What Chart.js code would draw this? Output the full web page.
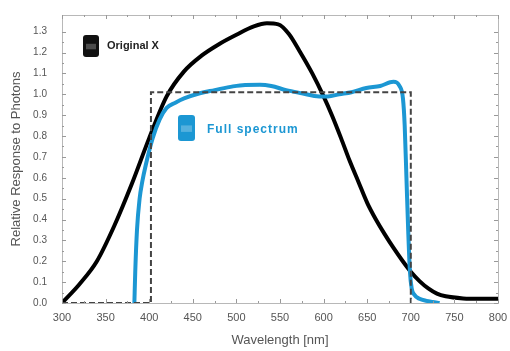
<!DOCTYPE html>
<html>
<head>
<meta charset="utf-8">
<script src="https://cdn.jsdelivr.net/npm/chart.js@4"></script>
<style>
    html, body { margin: 0; padding: 0; background: #fff; }
    #wrap { width: 510px; height: 351px; }
</style>
</head>
<body>
<div id="wrap"><canvas id="chart" width="510" height="351"></canvas></div>
<script>
// Wavelength ticks and response ticks
const xTicks = [300, 350, 400, 450, 500, 550, 600, 650, 700, 750, 800];
const yTicks = [0, 0.1, 0.2, 0.3, 0.4, 0.5, 0.6, 0.7, 0.8, 0.9, 1.0, 1.1, 1.2, 1.3];

// "Original X" response (black)
const originalX = [300, 320, 340, 360, 380, 400, 420, 440, 460, 480, 500, 520, 535, 548, 560, 572, 587, 600, 610, 620, 630, 640, 650, 660, 670, 680, 690, 700, 710, 720, 730, 740, 760, 780, 800];
const originalY = [0, 0.09, 0.2, 0.37, 0.57, 0.79, 0.99, 1.11, 1.185, 1.24, 1.285, 1.325, 1.34, 1.335, 1.29, 1.21, 1.1, 0.99, 0.895, 0.79, 0.68, 0.58, 0.48, 0.4, 0.33, 0.265, 0.205, 0.15, 0.105, 0.07, 0.045, 0.032, 0.022, 0.02, 0.02];

// "Full spectrum" response (blue)
const fullX = [383, 384, 386, 389, 392, 396, 404, 412, 420, 430, 440, 458, 475, 496, 510, 527, 540, 557, 575, 595, 605, 618, 632, 649, 665, 680, 687, 691, 693, 695, 697, 699, 701, 704, 710, 718, 725, 733];
const fullY = [0, 0.15, 0.35, 0.5, 0.58, 0.66, 0.79, 0.88, 0.935, 0.96, 0.98, 1.005, 1.02, 1.038, 1.045, 1.046, 1.04, 1.02, 1.005, 0.99, 0.99, 1.0, 1.01, 1.03, 1.04, 1.06, 1.04, 0.98, 0.85, 0.6, 0.35, 0.15, 0.07, 0.04, 0.02, 0.01, 0.005, 0];

// ideal band (dashed box)
const idealX = [300, 402, 402, 700, 700];
const idealY = [0, 0, 1.01, 1.01, 0];

const legendNames = ['Original X', 'Full spectrum'];

const BLUE = '#1c97d3';
const FONT = "'Liberation Sans', Arial, sans-serif";

function toPoints(xs, ys) {
    return xs.map((x, i) => ({ x: x, y: ys[i] }));
}

// frame, inward tick marks on all four sides + legend labels drawn inside the plot
const framePlugin = {
    id: 'frame',
    afterDraw(chart) {
        const { ctx, chartArea: a, scales } = chart;
        const xs = scales.x, ys = scales.y;
        ctx.save();
        ctx.strokeStyle = '#b8b8b8';
        ctx.lineWidth = 1;
        ctx.strokeRect(Math.round(a.left) + 0.5, Math.round(a.top) + 0.5,
            Math.round(a.right - a.left), Math.round(a.bottom - a.top));

        ctx.strokeStyle = '#999';
        ctx.beginPath();
        for (let v = 300; v <= 800; v += 25) {
            const px = Math.round(xs.getPixelForValue(v)) + 0.5;
            const len = v % 50 === 0 ? 4 : 2;
            ctx.moveTo(px, a.bottom); ctx.lineTo(px, a.bottom - len);
            ctx.moveTo(px, a.top); ctx.lineTo(px, a.top + len);
        }
        for (let i = 0; i <= 26; i++) {
            const v = i * 0.05;
            const py = Math.round(ys.getPixelForValue(v)) + 0.5;
            const len = i % 2 === 0 ? 4 : 2;
            ctx.moveTo(a.left, py); ctx.lineTo(a.left + len, py);
            ctx.moveTo(a.right, py); ctx.lineTo(a.right - len, py);
        }
        ctx.stroke();

        // legend icons and names
        const drawIcon = (x, y, w, h, color) => {
            ctx.fillStyle = color;
            ctx.beginPath();
            ctx.roundRect(x, y, w, h, 3);
            ctx.fill();
            ctx.fillStyle = 'rgba(255,255,255,0.25)';
            ctx.fillRect(x + 3, y + h * 0.4, w - 6, h * 0.25);
        };
        drawIcon(a.left + 21, a.top + 20, 16, 22, '#111');
        ctx.font = "bold 11px " + FONT;
        ctx.textBaseline = 'middle';
        ctx.fillStyle = '#222';
        ctx.fillText(legendNames[0], a.left + 45, a.top + 31);

        drawIcon(a.left + 116, a.top + 100, 17, 26, BLUE);
        ctx.fillStyle = BLUE;
        ctx.font = "bold 12px " + FONT;
        ctx.letterSpacing = '1px';
        ctx.fillText(legendNames[1], a.left + 145, a.top + 115);
        ctx.restore();
    }
};

new Chart(document.getElementById('chart'), {
    type: 'scatter',
    data: {
        datasets: [
            {
                label: 'Ideal',
                data: toPoints(idealX, idealY),
                showLine: true,
                borderColor: '#444',
                borderWidth: 2,
                borderDash: [6, 3],
                pointRadius: 0,
                tension: 0,
            },
            {
                label: legendNames[1],
                data: toPoints(fullX, fullY),
                showLine: true,
                borderColor: BLUE,
                borderWidth: 4,
                pointRadius: 0,
                cubicInterpolationMode: 'monotone',
            },
            {
                label: legendNames[0],
                data: toPoints(originalX, originalY),
                showLine: true,
                borderColor: '#000',
                borderWidth: 4,
                pointRadius: 0,
                cubicInterpolationMode: 'monotone',
            },
        ],
    },
    options: {
        responsive: false,
        animation: false,
        layout: { padding: { top: 15, right: 12, left: 0, bottom: 0 } },
        plugins: {
            legend: { display: false },
            tooltip: { enabled: false },
        },
        scales: {
            x: {
                type: 'linear',
                min: 300,
                max: 800,
                afterBuildTicks: (s) => { s.ticks = xTicks.map((v) => ({ value: v })); },
                afterFit: (s) => { s.height = 48; s.paddingLeft = 0; s.paddingRight = 0; },
                grid: { display: false, drawTicks: false },
                border: { display: false },
                ticks: {
                    padding: 8,
                    maxRotation: 0,
                    color: '#555',
                    font: { family: FONT, size: 11 },
                },
                title: {
                    display: true,
                    text: 'Wavelength [nm]',
                    color: '#555',
                    font: { family: FONT, size: 13 },
                    padding: { top: 0, bottom: 3 },
                },
            },
            y: {
                min: 0,
                max: 1.38,
                afterBuildTicks: (s) => { s.ticks = yTicks.map((v) => ({ value: v })); },
                afterFit: (s) => { s.width = 62; s.paddingTop = 0; s.paddingBottom = 0; },
                grid: { display: false, drawTicks: false },
                border: { display: false },
                ticks: {
                    padding: 15,
                    color: '#555',
                    font: { family: FONT, size: 10 },
                    callback: (v) => v.toFixed(1),
                },
                title: {
                    display: true,
                    text: 'Relative Response to Photons',
                    color: '#555',
                    font: { family: FONT, size: 13 },
                    padding: { top: 9, bottom: 0 },
                },
            },
        },
    },
    plugins: [framePlugin],
});
</script>
</body>
</html>
